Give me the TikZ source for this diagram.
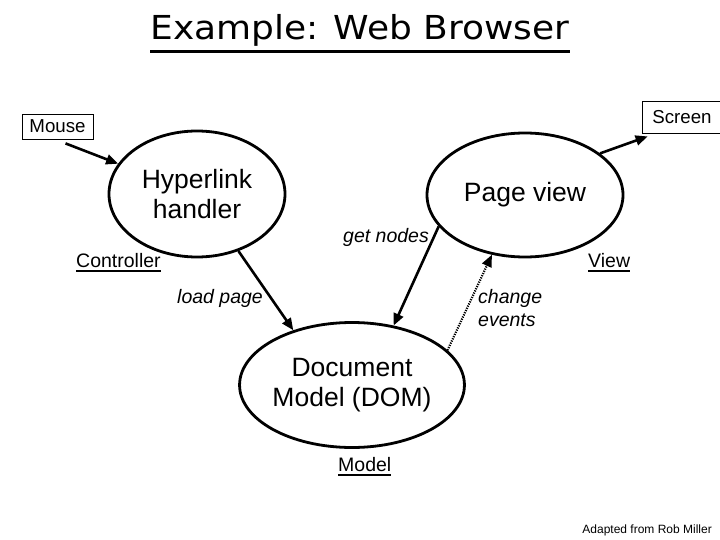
\documentclass[tikz,border=0pt]{standalone}
\usepackage{fontspec}
\setmainfont{Liberation Sans}
\newfontfamily\titlefont[FakeStretch=1.09]{DejaVu Sans}
\usetikzlibrary{shapes.geometric, arrows.meta}

% text with a thick rule under it: #1 rule bottom below baseline, #2 rule thickness
\newcommand{\ulined}[3]{\setbox0\hbox{#3}\rlap{\rule[-#1]{\wd0}{#2}}\box0}

\begin{document}
\begin{tikzpicture}[
    x=1pt, y=-1pt,
    part/.style={ellipse, draw=black, line width=2.8pt, inner sep=0pt, align=center, font=\fontsize{26.5}{30}\selectfont},
    io/.style={rectangle, draw=black, line width=0.8pt, inner sep=0pt, font=\fontsize{18.7}{22}\selectfont},
    lbl/.style={inner sep=0pt, align=left, font=\fontsize{19.5}{23}\selectfont\itshape},
    tag/.style={inner sep=0pt, font=\fontsize{19.5}{23}\selectfont},
    flow/.style={-{Triangle[length=12pt,width=10pt]}, line width=2.6pt},
    event/.style={flow, line width=2.2pt, dash pattern=on 1.2pt off 1.2pt}
]
\useasboundingbox (0,0) rectangle (720,540);

% title
\node[inner sep=0pt, anchor=base, font=\titlefont\fontsize{33}{40}\selectfont] (title) at (360,40) {\ulined{13pt}{3pt}{Example: Web Browser}};

% input and output
\node[io, minimum width=71pt, minimum height=25pt] (mouse) at (57.5,126.5) {Mouse};
\node[io, minimum width=80pt, minimum height=32pt] (screen) at (682,117) {Screen};

% the three parts
\node[part, minimum width=176pt, minimum height=126pt] (hyper) at (197,194) {Hyperlink\\handler};
\node[part, minimum width=196pt, minimum height=124pt] (page) at (525,195) {Page view};
\node[part, minimum width=200pt, minimum height=125pt] (dom) at (352,385) {Document\\Model (DOM)};

% part names
\node[tag, anchor=base west] (ctrl) at (76,267) {\ulined{5pt}{1.8pt}{Controller}};
\node[tag, anchor=base west] (view) at (588,267) {\ulined{5pt}{1.8pt}{View}};
\node[tag, anchor=base west] (model) at (338,471) {\ulined{5pt}{1.8pt}{Model}};

% arrows
\draw[flow] ([xshift=8pt,yshift=-4pt]mouse.south) -- (hyper.159);
\draw[flow] (page.29) -- ([xshift=6pt,yshift=-3pt]screen.south west);
\draw[flow] (hyper.-54) -- (dom.137);
\draw[flow] (page.200) -- (dom.55);
\draw[event] (dom.20) -- (page.241);

% arrow labels
\node[lbl, anchor=base west] (getn) at (343,242) {get nodes};
\node[lbl, anchor=base west] (loadp) at (177,303) {load page};
\node[lbl, anchor=west] (chev) at (478,308.5) {change\\events};

% credit
\node[inner sep=0pt, anchor=base east, font=\fontsize{12}{14}\selectfont] (credit) at (712,533) {Adapted from Rob Miller};
\end{tikzpicture}
\end{document}
